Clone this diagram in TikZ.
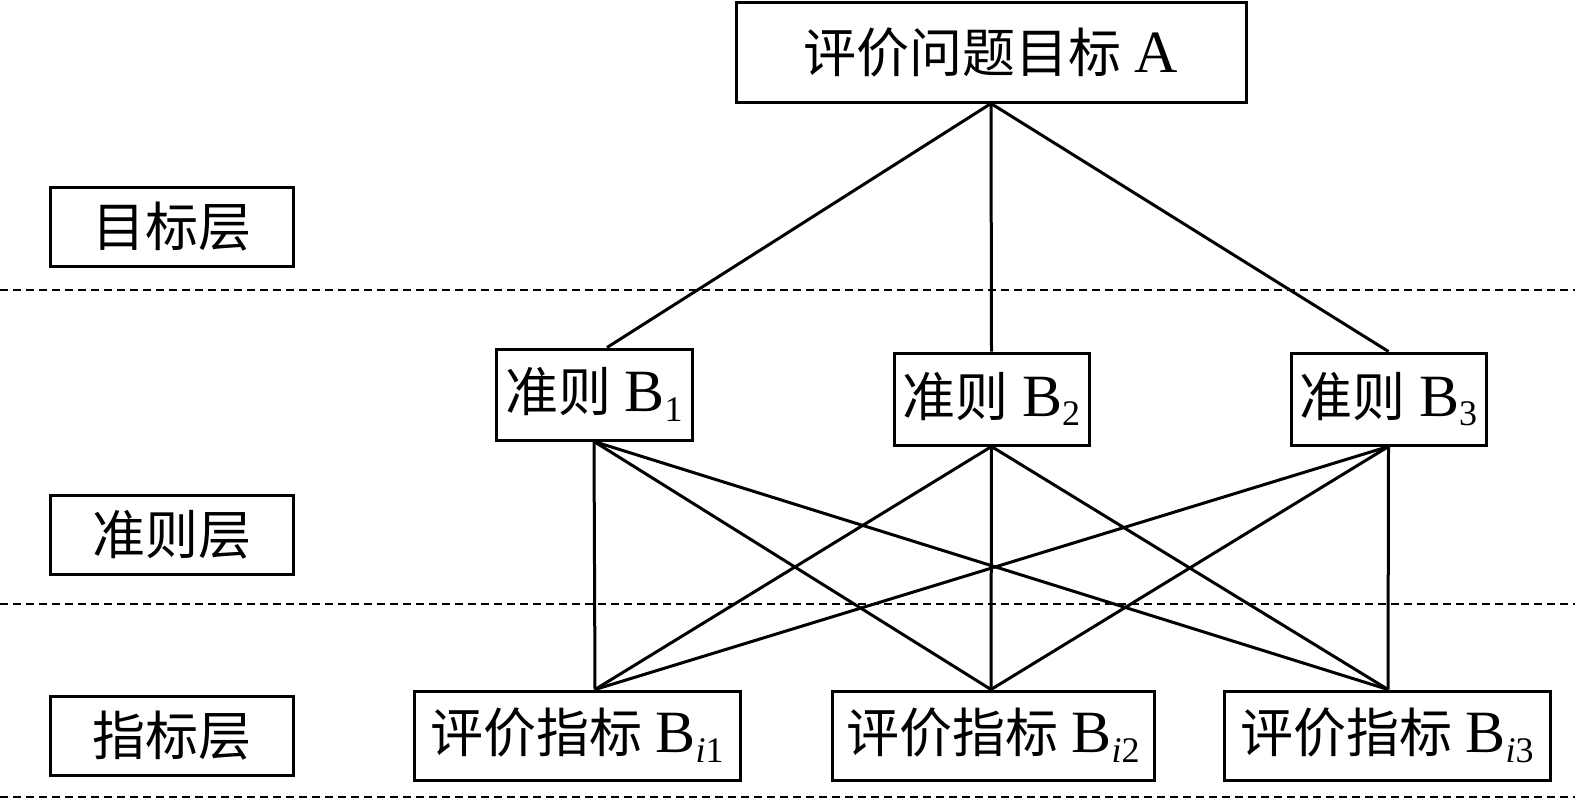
\documentclass[tikz,border=0pt]{standalone}
\usepackage{fontspec}
\setmainfont{Liberation Serif}
\newfontfamily\cjk{Noto Sans CJK SC}
\newcommand{\lat}[1]{{\fontsize{60}{60}\selectfont #1}}
\newcommand{\sbs}[1]{\raisebox{-0.4ex}{\fontsize{36}{36}\selectfont #1}}
\begin{document}
\begin{tikzpicture}[x=1pt,y=-1pt,
  box/.style={draw,line width=3pt,inner sep=0pt,align=center,font=\fontsize{53}{60}\selectfont},
  layerbox/.style={box,minimum width=243pt,minimum height=79pt},
  critbox/.style={box,minimum width=195pt,minimum height=92pt},
  indbox/.style={box,minimum width=324pt,minimum height=89pt},
  conn/.style={line width=3pt},
  sep/.style={line width=1.6pt,dash pattern=on 8pt off 5pt}]
\useasboundingbox (0,0) rectangle (1575,800);
% separators
\coordinate (s1l) at (0,290); \coordinate (s1r) at (1575,290);
\coordinate (s2l) at (0,604); \coordinate (s2r) at (1575,604);
\coordinate (s3l) at (0,797); \coordinate (s3r) at (1575,797);
\draw[sep] (s1l) -- (s1r);
\draw[sep] (s2l) -- (s2r);
\draw[sep] (s3l) -- (s3r);
% top
\node[box,minimum width=510pt,minimum height=99pt] (A) at (991,52.5) {{\cjk 评价问题目标} \lat{A}};
% layers
\node[layerbox] (L1) at (171.5,227) {\cjk 目标层};
\node[layerbox] (L2) at (171.5,535) {\cjk 准则层};
\node[layerbox] (L3) at (171.5,735.5) {\cjk 指标层};
% criteria
\node[critbox,minimum width=196pt,minimum height=91pt] (B1) at (594,394.5) {{\cjk 准则} \lat{B}\sbs{1}};
\node[critbox] (B2) at (991.5,399) {{\cjk 准则} \lat{B}\sbs{2}};
\node[critbox] (B3) at (1388.5,399) {{\cjk 准则} \lat{B}\sbs{3}};
% indicators
\node[indbox,minimum width=326pt] (C1) at (577,735.5) {{\cjk 评价指标} \lat{B}\sbs{\textit{i}1}};
\node[indbox,minimum width=322pt] (C2) at (993,735.5) {{\cjk 评价指标} \lat{B}\sbs{\textit{i}2}};
\node[indbox,minimum width=326pt] (C3) at (1387,735.5) {{\cjk 评价指标} \lat{B}\sbs{\textit{i}3}};
% connectors A -> B
\draw[conn] (A.south) -- ([xshift=13pt]B1.north);
\draw[conn] (A.south) -- (B2.north);
\draw[conn] (A.south) -- (B3.north);
% connectors B -> C
\foreach \b in {B1,B2,B3}{
  \draw[conn] (\b.south) -- ([xshift=18pt]C1.north);
  \draw[conn] (\b.south) -- ([xshift=-2pt]C2.north);
  \draw[conn] (\b.south) -- ([xshift=1pt]C3.north);
}
\end{tikzpicture}
\end{document}
